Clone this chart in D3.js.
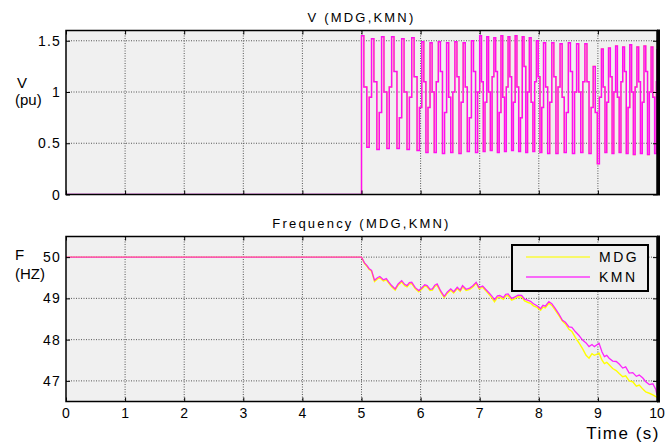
<!DOCTYPE html>
<html><head><meta charset="utf-8">
<script src="https://cdn.jsdelivr.net/npm/d3@7"></script>
<style>
html,body{margin:0;padding:0;background:#fff;}
text{font-family:"Liberation Sans",Arial,sans-serif;fill:#000;}
</style></head>
<body><svg id="c" width="666" height="444"></svg>
<script>
// ---------------- DATA ----------------
const xTicks = [0,1,2,3,4,5,6,7,8,9,10];
const vTicks = [0,0.5,1,1.5];
const vTickLabels = ["0","0.5","1","1.5"];
const fTicks = [47,48,49,50];
const fTickLabels = ["47","48","49","50"];
const seriesNames = ["MDG","KMN"];

// Voltage (pu), KMN — sampled waveform (step-drawn)
const vTime = [0,
 5.00,5.04,5.09,5.13, 5.17,5.21,5.26,5.30, 5.34,5.38,5.43,5.47, 5.51,5.55,5.60,5.64, 5.68,5.72,5.77,5.81, 5.85,5.89,5.94,5.98,
 6.02,6.055,6.09,6.125, 6.16,6.195,6.23,6.265, 6.30,6.335,6.37,6.405, 6.44,6.475,6.51,6.545, 6.58,6.615,6.65,6.685, 6.72,6.755,6.79,6.825, 6.86,6.895,6.93,6.965,
 7.00,7.03,7.06,7.09, 7.12,7.15,7.18,7.21, 7.24,7.27,7.30,7.33, 7.36,7.39,7.42,7.45, 7.48,7.51,7.54,7.57, 7.60,7.63,7.66,7.69, 7.72,7.75,7.78,7.81, 7.84,7.87,7.90,7.93, 7.96,7.99,8.02,8.05,
 8.08,8.115,8.15,8.185, 8.22,8.255,8.29,8.325, 8.36,8.395,8.43,8.465, 8.50,8.535,8.57,8.605, 8.64,8.675,8.71,8.745, 8.78,8.815,8.85,8.885, 8.92,8.955,8.99,9.025,
 9.06,9.09,9.12,9.15, 9.18,9.21,9.24,9.27, 9.30,9.33,9.36,9.39, 9.42,9.45,9.48,9.51, 9.54,9.57,9.60,9.63, 9.66,9.69,9.72,9.75, 9.78,9.81,9.84,9.87, 9.90,9.93,9.96,9.99,
 10.0];
const vKMN = [0,
 1.55,1.05,0.46,0.95, 1.52,1.10,0.44,0.80, 1.54,1.00,0.45,1.05, 1.54,1.20,0.45,0.75, 1.52,1.00,0.44,0.95, 1.53,1.15,0.43,0.85,
 1.49,1.10,0.41,0.85, 1.48,1.00,0.41,1.10, 1.49,1.20,0.40,0.80, 1.48,0.95,0.41,1.00, 1.49,1.15,0.40,0.90, 1.48,1.05,0.42,0.75, 1.50,1.20,0.41,1.00,
 1.55,1.10,0.42,0.90, 1.54,1.00,0.43,1.15, 1.53,1.20,0.41,0.80, 1.55,0.95,0.42,1.05, 1.54,1.15,0.43,0.90, 1.55,1.05,0.42,0.75, 1.54,1.25,0.41,1.00, 1.53,0.90,0.42,1.10, 1.50,1.15,0.41,0.85,
 1.48,1.05,0.40,0.90, 1.48,1.15,0.40,1.05, 1.47,0.95,0.41,0.80, 1.48,1.20,0.40,1.00, 1.47,1.00,0.41,1.10, 1.47,1.10,0.40,0.85, 1.25,0.80,0.30,0.95,
 1.42,1.05,0.41,0.90, 1.43,1.15,0.40,1.00, 1.45,0.95,0.41,1.10, 1.44,1.20,0.40,0.85, 1.46,1.00,0.39,1.05, 1.44,1.10,0.40,0.90, 1.45,1.20,0.39,1.00, 1.44,0.95,0.40,1.10,
 1.42];
// MDG voltage coincides with KMN in the picture
const vMDG = vKMN;

// Frequency (Hz)
const fTime = [0,5.00,5.05,5.09,5.13,5.17,5.22,5.27,5.31,5.37,5.42,5.46,5.51,5.57,5.62,5.68,5.73,5.77,5.81,5.85,5.91,5.97,
 6.03,6.07,6.11,6.16,6.20,6.24,6.28,6.34,6.40,6.45,6.51,6.56,6.62,6.67,6.71,6.77,6.83,6.88,6.94,6.99,
 7.05,7.10,7.16,7.21,7.25,7.30,7.34,7.40,7.44,7.48,7.54,7.59,7.65,7.71,7.76,7.82,7.86,7.91,7.97,
 8.03,8.07,8.11,8.17,8.22,8.28,8.34,8.40,8.45,8.51,8.56,8.62,8.68,8.74,8.80,8.85,8.90,8.94,
 9.02,9.07,9.11,9.15,9.19,9.25,9.31,9.36,9.42,9.47,9.53,9.59,9.65,9.70,9.76,9.81,9.87,9.93,9.98,10.00];
const fKMN = [50.00,50.00,49.86,49.80,49.72,49.68,49.44,49.50,49.53,49.45,49.48,49.40,49.31,49.23,49.35,49.43,49.34,49.31,49.38,49.39,49.26,49.19,
 49.27,49.33,49.31,49.22,49.23,49.32,49.35,49.18,49.05,49.15,49.23,49.16,49.27,49.20,49.31,49.22,49.25,49.30,49.39,49.26,
 49.30,49.22,49.13,49.05,48.97,49.06,49.07,49.02,49.10,49.11,49.00,49.03,49.08,49.07,48.98,48.95,48.93,48.87,48.82,
 48.75,48.83,48.81,48.92,48.87,48.75,48.62,48.47,48.42,48.31,48.30,48.19,48.10,47.99,47.92,47.83,47.88,47.83,
 47.91,47.70,47.59,47.62,47.55,47.48,47.47,47.41,47.31,47.34,47.19,47.20,47.11,47.14,47.07,46.98,46.91,46.93,46.79,46.66];
const fMDG = [50.00,50.00,49.85,49.78,49.70,49.66,49.41,49.47,49.50,49.42,49.45,49.37,49.28,49.20,49.32,49.40,49.31,49.28,49.35,49.36,49.23,49.16,
 49.24,49.30,49.28,49.19,49.20,49.29,49.32,49.15,49.02,49.12,49.20,49.13,49.24,49.17,49.28,49.19,49.22,49.27,49.36,49.23,
 49.27,49.19,49.09,49.00,48.92,49.02,49.03,48.98,49.06,49.07,48.96,48.99,49.04,49.03,48.94,48.90,48.88,48.82,48.78,
 48.71,48.79,48.77,48.88,48.83,48.71,48.58,48.45,48.38,48.25,48.20,48.05,47.92,47.78,47.62,47.55,47.66,47.62,
 47.67,47.50,47.42,47.45,47.39,47.30,47.25,47.18,47.10,47.12,47.00,46.98,46.87,46.90,46.80,46.73,46.70,46.66,46.62,46.60];

const colors = {MDG:"#ffff00", KMN:"#ff00ff"};

// ---------------- DRAW ----------------
const svg = d3.select("#c");
const X0 = 66, X1 = 657;
const x = d3.scaleLinear().domain([0,10]).range([X0,X1]);

function panel(opts){
  const y = d3.scaleLinear().domain(opts.domain).range([opts.bottom, opts.top]);
  const g = svg.append("g");
  const id = "clip"+opts.key;
  svg.append("clipPath").attr("id",id).append("rect")
    .attr("x",X0).attr("y",opts.top).attr("width",X1-X0).attr("height",opts.bottom-opts.top);
  g.append("rect").attr("x",X0).attr("y",opts.top).attr("width",X1-X0).attr("height",opts.bottom-opts.top).attr("fill","#f0f0f0");
  // grid
  const grid = g.append("g").attr("stroke","#444").attr("stroke-width",0.9).attr("stroke-dasharray","1,1.5");
  xTicks.slice(1,-1).forEach(t=>grid.append("line").attr("x1",x(t)).attr("x2",x(t)).attr("y1",opts.top).attr("y2",opts.bottom));
  opts.ticks.forEach(t=>{ if(y(t)>opts.top+1 && y(t)<opts.bottom-1) grid.append("line").attr("x1",X0).attr("x2",X1).attr("y1",y(t)).attr("y2",y(t)); });
  // lines
  const lg = g.append("g").attr("clip-path",`url(#${id})`);
  opts.series.forEach(s=>{
    const pts = s.t.map((tt,i)=>[tt,s.v[i]]);
    lg.append("path").datum(pts)
      .attr("fill","none").attr("stroke",colors[s.name]).attr("stroke-width",s.w)
      .attr("stroke-opacity",s.op)
      .attr("d", d3.line().x(d=>x(d[0])).y(d=>y(d[1])).curve(opts.curve)(pts));
  });
  // axes (ticks inside)
  const axB = d3.axisBottom(x).tickValues(xTicks).tickSize(-4).tickFormat("");
  const axT = d3.axisTop(x).tickValues(xTicks).tickSize(-4).tickFormat("");
  const axL = d3.axisLeft(y).tickValues(opts.ticks).tickSize(-4).tickFormat("");
  const axR = d3.axisRight(y).tickValues(opts.ticks).tickSize(-4).tickFormat("");
  [[axB,`translate(0,${opts.bottom})`],[axT,`translate(0,${opts.top})`],[axL,`translate(${X0},0)`],[axR,`translate(${X1},0)`]].forEach(([a,tr])=>{
    const ag = g.append("g").attr("transform",tr).call(a);
    ag.select(".domain").remove();
    ag.selectAll("line").attr("stroke","#000").attr("stroke-width",1);
  });
  g.append("rect").attr("x",X0).attr("y",opts.top).attr("width",X1-X0).attr("height",opts.bottom-opts.top)
    .attr("fill","none").attr("stroke","#000").attr("stroke-width",1.5);
  g.append("line").attr("x1",X1+1.5).attr("x2",X1+1.5).attr("y1",opts.top-1).attr("y2",opts.bottom+1).attr("stroke","#000").attr("stroke-width",3);
  // y tick labels
  opts.ticks.forEach((t,i)=>{
    g.append("text").attr("x",61).attr("y",y(t)+5).attr("text-anchor","end")
      .attr("font-size",14).attr("letter-spacing",1.2).text(opts.tickLabels[i]);
  });
  // title
  g.append("text").attr("x",(X0+X1)/2).attr("y",opts.top-9).attr("text-anchor","middle")
    .attr("font-size",13).attr("letter-spacing",2.2).text(opts.title);
  // y label
  g.append("text").attr("x",opts.lx).attr("y",opts.ly1).attr("font-size",15).text(opts.lab1);
  g.append("text").attr("x",15).attr("y",opts.ly2).attr("font-size",15).text(opts.lab2);
  return y;
}

panel({key:"v", top:30.5, bottom:194.5, domain:[0,1.6], ticks:vTicks, tickLabels:vTickLabels,
  title:"V (MDG,KMN)", lab1:"V", lab2:"(pu)", lx:17, ly1:88, ly2:105, curve:d3.curveStepAfter,
  series:[{name:"MDG",t:vTime,v:vMDG,w:1.2,op:1},{name:"KMN",t:vTime,v:vKMN,w:1.5,op:0.95}]});

panel({key:"f", top:236.5, bottom:401.5, domain:[46.5,50.5], ticks:fTicks, tickLabels:fTickLabels,
  title:"Frequency (MDG,KMN)", lab1:"F", lab2:"(HZ)", lx:15, ly1:260, ly2:279, curve:d3.curveLinear,
  series:[{name:"MDG",t:fTime,v:fMDG,w:1.4,op:1},{name:"KMN",t:fTime,v:fKMN,w:1.3,op:0.85}]});

// x tick labels (bottom panel)
xTicks.forEach(t=>{
  svg.append("text").attr("x",x(t)).attr("y",418).attr("text-anchor","middle")
    .attr("font-size",14).text(String(t));
});
svg.append("text").attr("x",660).attr("y",439).attr("text-anchor","end")
  .attr("font-size",17).attr("letter-spacing",1.5).text("Time (s)");

// legend
const lgd = svg.append("g");
lgd.append("rect").attr("x",512).attr("y",245).attr("width",136).attr("height",46)
  .attr("fill","#f0f0f0").attr("stroke","#000").attr("stroke-width",2);
seriesNames.forEach((n,i)=>{
  const yy = 257 + i*20;
  lgd.append("line").attr("x1",526).attr("x2",590).attr("y1",yy).attr("y2",yy)
    .attr("stroke",colors[n]).attr("stroke-width",1.5).attr("stroke-opacity",0.75);
  lgd.append("text").attr("x",599).attr("y",yy+5).attr("font-size",14).attr("letter-spacing",2.5).text(n);
});
</script></body></html>
